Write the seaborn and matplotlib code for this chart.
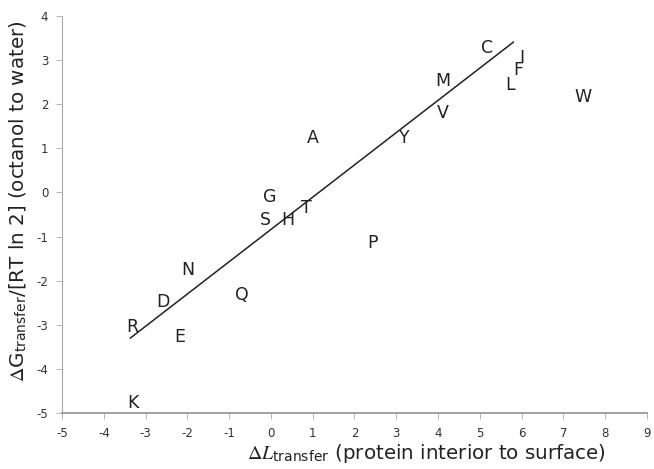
import numpy as np
import pandas as pd
import seaborn as sns
import matplotlib.pyplot as plt

# amino acid label positions
residues = ['C', 'I', 'F', 'L', 'W', 'M', 'V', 'Y', 'A', 'G',
            'S', 'H', 'T', 'P', 'N', 'D', 'Q', 'R', 'E', 'K']
dL_transfer = [5.17, 6.00, 5.93, 5.72, 7.46, 4.11, 4.11, 3.20, 1.00, -0.04,
               -0.14, 0.40, 0.84, 2.42, -1.99, -2.58, -0.70, -3.33, -2.18, -3.30]
dG_transfer = [3.27, 3.05, 2.78, 2.44, 2.16, 2.53, 1.80, 1.23, 1.23, -0.10,
               -0.63, -0.63, -0.35, -1.15, -1.76, -2.49, -2.33, -3.05, -3.28, -4.78]

# fitted line end points
fit_x = [-3.37, 5.81]
fit_y = [-3.30, 3.41]

df = pd.DataFrame({'res': residues, 'dL': dL_transfer, 'dG': dG_transfer})
fit = pd.DataFrame({'x': fit_x, 'y': fit_y})

sns.set_style('ticks')
plt.rcParams['font.family'] = ['DejaVu Sans']
plt.rcParams['axes.unicode_minus'] = False
plt.rcParams['mathtext.fontset'] = 'stix'

fig = plt.figure(figsize=(6.54, 4.69), dpi=100)
ax = fig.add_axes([0.095, 0.119, 0.894, 0.847])

sns.lineplot(data=fit, x='x', y='y', color='#222222', linewidth=1.1, ax=ax)
for _, r in df.iterrows():
    ax.text(r['dL'], r['dG'], r['res'], fontsize=12.5, ha='center', va='center', color='#222222')

ax.set_xlim(-5, 9)
ax.set_ylim(-5, 4)
ax.set_xticks(np.arange(-5, 10, 1))
ax.set_yticks(np.arange(-5, 5, 1))
ax.tick_params(labelsize=8.5, colors='#333333', length=4, width=0.6, pad=6)
ax.tick_params(axis='both', color='#aaaaaa')

sns.despine(ax=ax)
ax.spines['left'].set_color('#aaaaaa')
ax.spines['left'].set_linestyle((0, (1, 1)))
ax.spines['left'].set_linewidth(0.8)
ax.spines['bottom'].set_color('#999999')
ax.spines['bottom'].set_linewidth(1.3)

ax.set_xlabel(r'$\Delta L_{\mathregular{transfer}}$ (protein interior to surface)',
              fontsize=14.3, color='#222222')
ax.set_ylabel(r'$\Delta\mathregular{G}_{\mathregular{transfer}}$/[RT ln 2] (octanol to water)',
              fontsize=14.3, color='#222222')
# the reference's axis titles are not centred on the axes
ax.xaxis.set_label_coords(0.624, -0.072)
ax.yaxis.set_label_coords(-0.056, 0.534)

fig.savefig('out.png', dpi=100)
